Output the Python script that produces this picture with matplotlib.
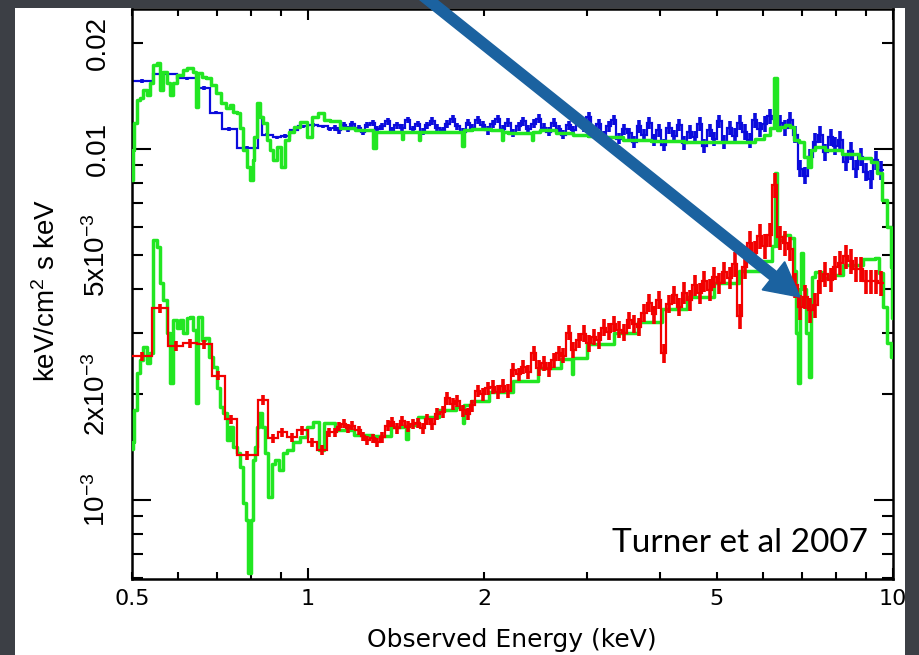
import numpy as np
import matplotlib.pyplot as plt
from matplotlib import font_manager
from matplotlib.patches import Rectangle, FancyArrow

# flux values below are in units of 1e-2 keV/cm^2/s/keV
SCALE = 1e-2

# ---- upper spectrum: data (blue), wide bins below 1.1 keV ----
blue_lo_edges = [0.500, 0.543, 0.597, 0.648, 0.680, 0.712, 0.756, 0.821, 0.834, 0.870,
                 0.900, 0.930, 0.960, 1.000, 1.040, 1.080, 1.100]
blue_lo_vals = [1.56, 1.64, 1.59, 1.49, 1.27, 1.14, 1.01, 1.23, 1.10, 1.08,
                1.09, 1.13, 1.16, 1.17, 1.16, 1.14]

# channel centres above 1.1 keV (keV)
e_hi = [1.11, 1.13, 1.15, 1.17, 1.19, 1.22, 1.24, 1.26, 1.29, 1.31,
        1.34, 1.37, 1.39, 1.42, 1.45, 1.48, 1.51, 1.54, 1.57, 1.60,
        1.63, 1.66, 1.70, 1.73, 1.77, 1.80, 1.84, 1.88, 1.91, 1.95,
        1.99, 2.03, 2.07, 2.11, 2.15, 2.20, 2.24, 2.29, 2.33, 2.38,
        2.43, 2.48, 2.53, 2.58, 2.63, 2.68, 2.73, 2.79, 2.84, 2.90,
        2.96, 3.02, 3.08, 3.14, 3.20, 3.27, 3.33, 3.40, 3.47, 3.54,
        3.61, 3.68, 3.75, 3.83, 3.90, 3.98, 4.06, 4.14, 4.23, 4.31,
        4.40, 4.49, 4.58, 4.67, 4.76, 4.86, 4.95, 5.05, 5.15, 5.26,
        5.36, 5.47, 5.58, 5.69, 5.81, 5.92, 6.04, 6.16, 6.28, 6.41,
        6.54, 6.67, 6.80, 6.94, 7.08, 7.22, 7.36, 7.51, 7.66, 7.82,
        7.97, 8.13, 8.30, 8.46, 8.63, 8.81, 8.98, 9.16, 9.35, 9.54]

blue_hi = [1.15, 1.13, 1.17, 1.14, 1.18, 1.15, 1.12, 1.17, 1.19, 1.14,
           1.16, 1.20, 1.13, 1.17, 1.15, 1.21, 1.14, 1.18, 1.12, 1.17,
           1.20, 1.15, 1.13, 1.18, 1.22, 1.16, 1.12, 1.19, 1.15, 1.21,
           1.17, 1.13, 1.18, 1.22, 1.14, 1.19, 1.11, 1.16, 1.20, 1.14,
           1.18, 1.22, 1.15, 1.12, 1.19, 1.14, 1.10, 1.17, 1.13, 1.20,
           1.16, 1.23, 1.12, 1.18, 1.09, 1.16, 1.21, 1.07, 1.14, 1.11,
           1.05, 1.16, 1.10, 1.19, 1.06, 1.13, 1.03, 1.15, 1.09, 1.17,
           1.04, 1.12, 1.08, 1.18, 1.02, 1.13, 1.07, 1.20, 1.05, 1.15,
           1.09, 1.19, 1.12, 1.06, 1.21, 1.14, 1.18, 1.24, 1.22, 1.19,
           1.15, 1.21, 1.10, 0.88, 0.84, 0.95, 1.05, 1.10, 0.98, 1.08,
           1.02, 1.06, 0.92, 0.99, 0.88, 0.95, 0.86, 0.82, 0.93, 0.87]
blue_hi_err = [0.020, 0.020, 0.020, 0.020, 0.020, 0.020, 0.020, 0.020, 0.020, 0.020,
               0.022, 0.022, 0.022, 0.022, 0.022, 0.022, 0.022, 0.022, 0.022, 0.022,
               0.025, 0.025, 0.025, 0.025, 0.025, 0.025, 0.025, 0.025, 0.025, 0.025,
               0.028, 0.028, 0.028, 0.028, 0.028, 0.028, 0.028, 0.028, 0.028, 0.028,
               0.030, 0.030, 0.030, 0.030, 0.030, 0.030, 0.030, 0.030, 0.030, 0.030,
               0.035, 0.035, 0.035, 0.035, 0.035, 0.035, 0.035, 0.035, 0.035, 0.035,
               0.040, 0.040, 0.040, 0.040, 0.040, 0.040, 0.040, 0.040, 0.040, 0.040,
               0.045, 0.045, 0.045, 0.045, 0.045, 0.045, 0.045, 0.045, 0.045, 0.045,
               0.050, 0.050, 0.050, 0.050, 0.050, 0.050, 0.050, 0.050, 0.050, 0.050,
               0.055, 0.055, 0.055, 0.055, 0.055, 0.055, 0.055, 0.055, 0.055, 0.055,
               0.060, 0.060, 0.060, 0.060, 0.060, 0.060, 0.060, 0.060, 0.060, 0.060]

# ---- lower spectrum: data (red) ----
red_lo_edges = [0.500, 0.542, 0.577, 0.612, 0.645, 0.684, 0.721, 0.755, 0.822, 0.855,
                0.889, 0.919, 0.956, 1.001, 1.034, 1.076, 1.100]
red_lo_vals = [0.257, 0.352, 0.275, 0.280, 0.278, 0.226, 0.170, 0.134, 0.193, 0.150,
               0.156, 0.151, 0.158, 0.146, 0.139, 0.156]

red_hi = [0.156, 0.162, 0.165, 0.160, 0.163, 0.158, 0.152, 0.148, 0.150, 0.146,
          0.151, 0.163, 0.167, 0.160, 0.168, 0.162, 0.165, 0.166, 0.160, 0.170,
          0.165, 0.176, 0.178, 0.195, 0.188, 0.192, 0.180, 0.176, 0.186, 0.205,
          0.200, 0.208, 0.210, 0.203, 0.212, 0.205, 0.235, 0.228, 0.240, 0.232,
          0.262, 0.238, 0.245, 0.236, 0.250, 0.262, 0.258, 0.300, 0.268, 0.285,
          0.298, 0.280, 0.292, 0.286, 0.310, 0.302, 0.318, 0.306, 0.300, 0.325,
          0.318, 0.312, 0.342, 0.365, 0.338, 0.372, 0.262, 0.362, 0.385, 0.356,
          0.390, 0.372, 0.410, 0.388, 0.420, 0.398, 0.432, 0.415, 0.445, 0.430,
          0.470, 0.335, 0.462, 0.540, 0.505, 0.565, 0.530, 0.570, 0.790, 0.560,
          0.540, 0.520, 0.410, 0.355, 0.380, 0.348, 0.360, 0.420, 0.440, 0.425,
          0.460, 0.475, 0.495, 0.480, 0.455, 0.455, 0.420, 0.420, 0.420, 0.415]
red_hi_err = [0.030, 0.030, 0.030, 0.030, 0.030, 0.030, 0.030, 0.030, 0.030, 0.030,
              0.035, 0.035, 0.035, 0.035, 0.035, 0.035, 0.035, 0.035, 0.035, 0.035,
              0.040, 0.040, 0.040, 0.040, 0.040, 0.040, 0.040, 0.040, 0.040, 0.040,
              0.045, 0.045, 0.045, 0.045, 0.045, 0.045, 0.045, 0.045, 0.045, 0.045,
              0.050, 0.050, 0.050, 0.050, 0.050, 0.050, 0.050, 0.050, 0.050, 0.050,
              0.055, 0.055, 0.055, 0.055, 0.055, 0.055, 0.055, 0.055, 0.055, 0.055,
              0.060, 0.060, 0.060, 0.060, 0.060, 0.060, 0.060, 0.060, 0.060, 0.060,
              0.070, 0.070, 0.070, 0.070, 0.070, 0.070, 0.070, 0.070, 0.070, 0.070,
              0.080, 0.080, 0.080, 0.080, 0.080, 0.080, 0.080, 0.080, 0.080, 0.080,
              0.080, 0.080, 0.080, 0.080, 0.080, 0.080, 0.080, 0.080, 0.080, 0.080,
              0.080, 0.080, 0.080, 0.080, 0.080, 0.080, 0.080, 0.080, 0.080, 0.080]

# ---- models (green) ----
mod_up_e = [0.500, 0.503, 0.506, 0.513, 0.519, 0.526, 0.533, 0.540, 0.547, 0.555,
            0.562, 0.569, 0.577, 0.585, 0.592, 0.604, 0.616, 0.628, 0.641, 0.645,
            0.654, 0.662, 0.675, 0.689, 0.702, 0.716, 0.730, 0.740, 0.750, 0.760,
            0.770, 0.780, 0.790, 0.801, 0.806, 0.811, 0.822, 0.833, 0.844, 0.855,
            0.867, 0.878, 0.889, 0.907, 0.919, 0.937, 0.956, 0.981, 1.007, 1.028,
            1.055, 1.076,
            1.10, 1.17, 1.24, 1.285, 1.30, 1.315, 1.40, 1.44, 1.45, 1.46,
            1.54, 1.55, 1.56, 1.73, 1.83, 1.84, 1.85, 1.97, 2.14, 2.15,
            2.16, 2.24, 2.41, 2.42, 2.43, 2.56, 2.75, 2.92, 3.10, 3.32,
            3.59, 4.11, 4.68, 5.32, 5.69, 5.92, 6.11, 6.23, 6.31, 6.36,
            6.46, 6.59, 6.72, 6.85, 6.99, 7.12, 7.21, 7.30, 7.41, 7.89,
            8.44, 9.03, 9.31, 9.50, 9.69, 9.88, 9.94, 10.0]
mod_up_f = [0.816, 0.993, 1.186, 1.379, 1.397, 1.473, 1.425, 1.542, 1.735, 1.758,
            1.473, 1.657, 1.542, 1.425, 1.542, 1.624, 1.679, 1.701, 1.657, 1.317,
            1.646, 1.604, 1.593, 1.522, 1.444, 1.352, 1.309, 1.335, 1.275, 1.266,
            1.148, 0.993, 0.889, 0.816, 0.930, 1.082, 1.352, 1.234, 1.186, 1.061,
            0.993, 0.930, 1.013, 0.889, 1.061, 1.118, 1.155, 1.194, 1.082, 1.234,
            1.266, 1.209,
            1.20, 1.15, 1.13, 1.13, 1.01, 1.12, 1.12, 1.12, 1.07, 1.12,
            1.12, 1.06, 1.12, 1.12, 1.12, 1.02, 1.13, 1.14, 1.13, 1.06,
            1.12, 1.11, 1.11, 1.06, 1.12, 1.13, 1.11, 1.10, 1.09, 1.08,
            1.06, 1.054, 1.047, 1.047, 1.047, 1.068, 1.096, 1.148, 1.593, 1.133,
            1.155, 1.170, 1.155, 1.061, 1.047, 0.949, 0.889, 0.993, 1.013, 0.993,
            0.968, 0.943, 0.918, 0.854, 0.716, 0.600, 0.460, 0.330]

mod_lo_e = [0.500, 0.503, 0.506, 0.513, 0.519, 0.526, 0.533, 0.540, 0.547, 0.555,
            0.562, 0.569, 0.577, 0.585, 0.592, 0.600, 0.608, 0.616, 0.624, 0.632,
            0.641, 0.645, 0.654, 0.662, 0.671, 0.684, 0.693, 0.702, 0.711, 0.721,
            0.730, 0.740, 0.750, 0.760, 0.770, 0.780, 0.787, 0.794, 0.801, 0.806,
            0.814, 0.822, 0.829, 0.838, 0.849, 0.861, 0.871, 0.882, 0.902, 0.912,
            0.932, 0.956, 0.981, 1.007, 1.034, 1.055, 1.076,
            1.15, 1.25, 1.33, 1.44, 1.465, 1.475, 1.485, 1.60, 1.75, 1.835,
            1.845, 1.855, 1.95, 2.13, 2.35, 2.59, 2.82, 2.83, 2.84, 3.16,
            3.50, 3.84, 4.20, 4.68, 5.20, 5.69, 6.16, 6.25, 6.31, 6.36,
            6.41, 6.59, 6.72, 6.80, 6.85, 6.90, 6.95, 6.99, 7.07, 7.14,
            7.21, 7.26, 7.30, 7.44, 7.70, 7.89, 8.55, 9.22, 9.38, 9.57,
            9.69, 9.88, 10.0]
mod_lo_f = [0.140, 0.146, 0.181, 0.230, 0.250, 0.273, 0.246, 0.262, 0.550, 0.526,
            0.415, 0.372, 0.299, 0.216, 0.326, 0.310, 0.326, 0.299, 0.330, 0.332,
            0.305, 0.189, 0.332, 0.286, 0.290, 0.256, 0.239, 0.208, 0.184, 0.177,
            0.148, 0.162, 0.142, 0.136, 0.124, 0.098, 0.088, 0.062, 0.088, 0.130,
            0.142, 0.162, 0.177, 0.162, 0.136, 0.102, 0.127, 0.130, 0.122, 0.136,
            0.139, 0.146, 0.151, 0.162, 0.167, 0.139, 0.166,
            0.158, 0.153, 0.152, 0.162, 0.163, 0.149, 0.164, 0.172, 0.181, 0.184,
            0.166, 0.186, 0.192, 0.203, 0.218, 0.238, 0.252, 0.228, 0.254, 0.278,
            0.300, 0.322, 0.350, 0.380, 0.415, 0.450, 0.480, 0.530, 0.854, 0.530,
            0.550, 0.569, 0.558, 0.450, 0.300, 0.216, 0.400, 0.506, 0.400, 0.300,
            0.224, 0.350, 0.432, 0.447, 0.429, 0.438, 0.467, 0.486, 0.489, 0.443,
            0.355, 0.280, 0.256]

GREEN = '#22e622'
BLUE = '#0b0bdc'
RED = '#f20000'

names = {f.name for f in font_manager.fontManager.ttflist}
narrow = 'Liberation Sans Narrow' if 'Liberation Sans Narrow' in names else 'Liberation Sans'
plt.rcParams['mathtext.default'] = 'regular'

fig = plt.figure(figsize=(9.2, 6.55), dpi=100, facecolor='#3c3f45')
fig.add_artist(Rectangle((15 / 920, 0), 890 / 920, 647 / 655, transform=fig.transFigure,
                         facecolor='white', edgecolor='none', zorder=-5))
ax = fig.add_axes([132 / 920, 76 / 655, 761 / 920, 570 / 655])
ax.set_xscale('log')
ax.set_yscale('log')


def centers_to_edges(c):
    c = np.asarray(c)
    mid = np.sqrt(c[:-1] * c[1:])
    return np.concatenate([[c[0] ** 2 / mid[0]], mid, [c[-1] ** 2 / mid[-1]]])


def draw_data(edges, vals, centers, rel_err, color, z):
    vals = np.asarray(vals) * SCALE
    ax.stairs(vals, edges, baseline=None, color=color, lw=1.6, zorder=z)
    ax.errorbar(centers, vals, yerr=vals * np.asarray(rel_err), fmt='none',
                ecolor=color, elinewidth=2.6, zorder=z)


# blue data (under the models)
c_lo = np.sqrt(np.array(blue_lo_edges[:-1]) * np.array(blue_lo_edges[1:]))
draw_data(blue_lo_edges, blue_lo_vals, c_lo, 0.012, BLUE, 2)
draw_data(centers_to_edges(e_hi), blue_hi, e_hi, blue_hi_err, BLUE, 2)

# models
ax.plot(mod_up_e, np.array(mod_up_f) * SCALE, color=GREEN, lw=2.5, drawstyle='steps-mid', zorder=3)
ax.plot(mod_lo_e, np.array(mod_lo_f) * SCALE, color=GREEN, lw=2.5, drawstyle='steps-mid', zorder=3)

# red data (on top)
c_lo = np.sqrt(np.array(red_lo_edges[:-1]) * np.array(red_lo_edges[1:]))
draw_data(red_lo_edges, red_lo_vals, c_lo, 0.03, RED, 4)
draw_data(centers_to_edges(e_hi), red_hi, e_hi, red_hi_err, RED, 4)

ax.set_xlim(0.5, 10)
ax.set_ylim(5.96e-4, 0.02506)

# ticks
ax.set_xticks([1, 10], labels=['1', '10'])
ax.set_xticks([0.5, 0.6, 0.7, 0.8, 0.9, 2, 3, 4, 5, 6, 7, 8, 9],
              labels=['0.5', '', '', '', '', '2', '', '', '5', '', '', '', ''], minor=True)
ax.set_yticks([1e-3, 1e-2], labels=['10$^{-3}$', '0.01'])
ax.set_yticks([6e-4, 7e-4, 8e-4, 9e-4, 2e-3, 3e-3, 4e-3, 5e-3, 6e-3, 7e-3, 8e-3, 9e-3, 2e-2],
              labels=['', '', '', '', '2x10$^{-3}$', '', '', '5x10$^{-3}$', '', '', '', '', '0.02'],
              minor=True)
ax.tick_params(axis='x', which='major', length=8, width=1.5, direction='in', top=True, pad=7)
ax.tick_params(axis='x', which='minor', length=5, width=1.5, direction='in', top=True, pad=7)
ax.tick_params(axis='y', which='major', length=14, width=1.5, direction='in', right=True, pad=15)
ax.tick_params(axis='y', which='minor', length=8, width=1.5, direction='in', right=True, pad=15)
for lab in ax.get_xticklabels(which='both'):
    lab.set_fontsize(16)
    lab.set_family('DejaVu Sans')
for lab in ax.get_yticklabels(which='both'):
    lab.set_rotation(90)
    lab.set_va('center')
    lab.set_fontsize(20)
    lab.set_family(narrow)
for s in ax.spines.values():
    s.set_linewidth(1.8)

ax.set_xlabel('Observed Energy (keV)', fontsize=18, family='DejaVu Sans')
ax.xaxis.set_label_coords(0.4993, -0.107)
ax.xaxis.label.set_va('center')
ax.set_ylabel('keV/cm$^2$ s keV', fontsize=20, family=narrow)
ax.yaxis.set_label_coords(-0.112, 0.507)
ax.yaxis.label.set_va('center')

ax.text(0.967, 0.063, 'Turner et al 2007', transform=ax.transAxes, ha='right', va='center',
        fontsize=24, family='Lato', color='black', zorder=6)

# annotation arrow (slide overlay)
fig.add_artist(FancyArrow(3.91, 6.85, 4.09, -3.27, width=0.105, head_width=0.36, head_length=0.34,
                          length_includes_head=True, transform=fig.dpi_scale_trans,
                          color='#1b62a0', zorder=10))

fig.savefig('out.png', dpi=100, facecolor=fig.get_facecolor())
